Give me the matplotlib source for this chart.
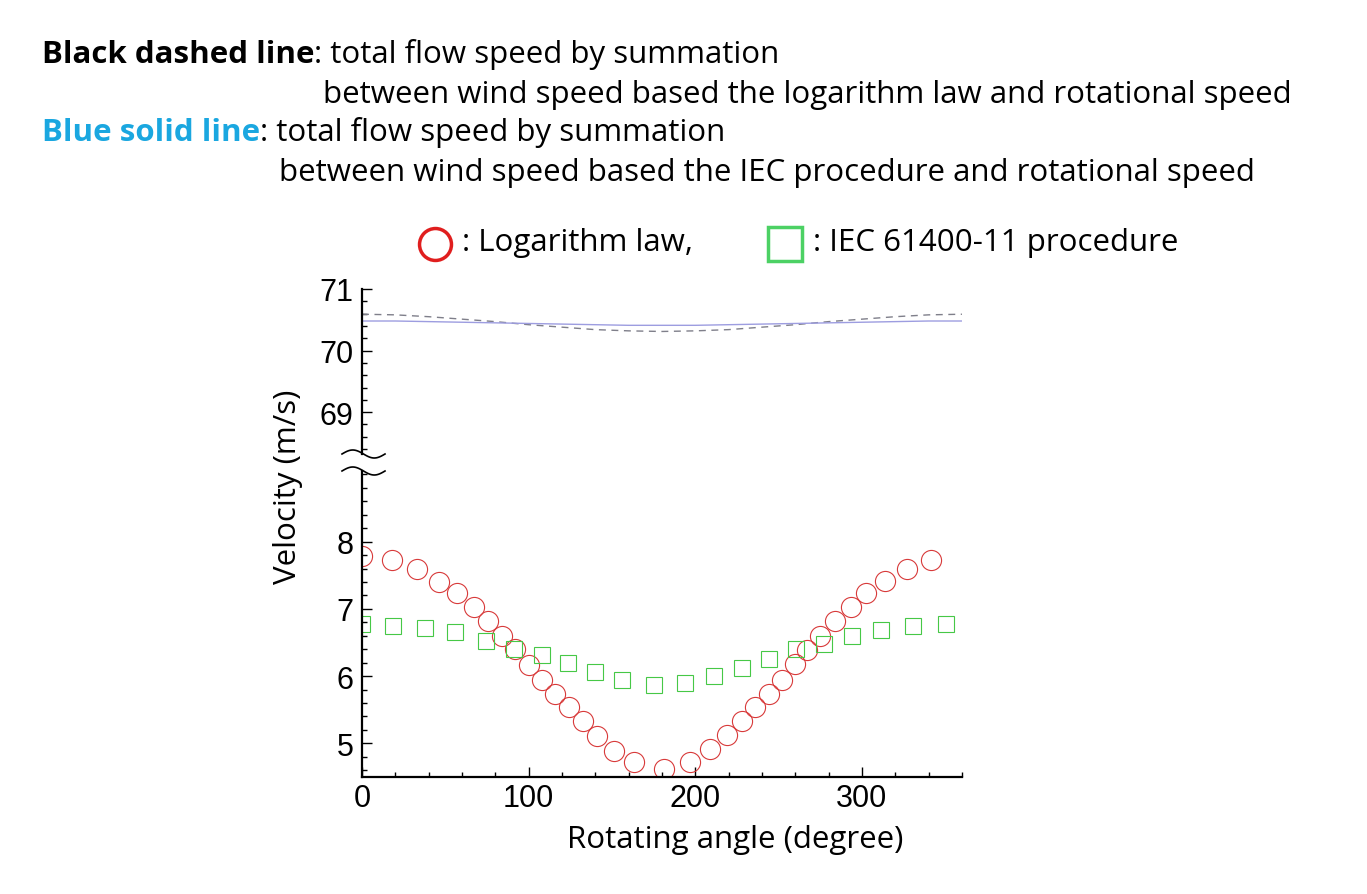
import numpy as np
import matplotlib
matplotlib.use("Agg")
import matplotlib.pyplot as plt
from matplotlib.lines import Line2D

# rotating angle (deg) and velocity (m/s)
log_angle = [0, 18, 33, 46, 57, 67, 75.5, 84, 92, 100, 108, 116, 124.5, 132.5, 141, 151, 163,
             181, 197, 209, 219, 228, 236, 244, 252, 260, 267, 275, 284, 293.5, 302.5, 314,
             327, 341.7]
log_vel = [7.79, 7.72, 7.59, 7.40, 7.23, 7.03, 6.82, 6.60, 6.40, 6.16, 5.95, 5.74, 5.54, 5.33,
           5.11, 4.89, 4.72, 4.62, 4.73, 4.91, 5.12, 5.33, 5.54, 5.74, 5.95, 6.18, 6.39, 6.60,
           6.82, 7.03, 7.23, 7.42, 7.59, 7.73]

iec_angle = [0, 18.8, 37.8, 56, 74.2, 91, 107.8, 123.7, 139.8, 156.2, 175.3, 194, 211.5,
             227.9, 244, 260.4, 277, 294, 311.7, 330.5, 350.3]
iec_vel = [6.78, 6.75, 6.72, 6.65, 6.53, 6.41, 6.31, 6.19, 6.06, 5.95, 5.87, 5.90, 6.00, 6.12,
           6.25, 6.40, 6.48, 6.60, 6.69, 6.75, 6.78]

total_angle = [0, 20, 40, 60, 80, 100, 120, 140, 160, 180, 200, 220, 240, 260, 280, 300, 320,
               340, 360]
total_log = [70.59, 70.58, 70.55, 70.51, 70.47, 70.42, 70.38, 70.34, 70.32, 70.31, 70.32,
             70.34, 70.38, 70.42, 70.47, 70.51, 70.55, 70.58, 70.59]
total_iec = [70.48, 70.48, 70.47, 70.46, 70.45, 70.44, 70.43, 70.42, 70.41, 70.41, 70.41,
             70.42, 70.43, 70.44, 70.45, 70.46, 70.47, 70.48, 70.48]

TXT = ["Open Sans", "DejaVu Sans"]
NUM = "Liberation Sans"
FS = 22.5

fig = plt.figure(figsize=(13.67, 8.95), dpi=100)
ax_top = fig.add_axes([0.2648, 0.4916, 0.4389, 0.1844])
ax_bot = fig.add_axes([0.2648, 0.1307, 0.4389, 0.3419])

ax_top.plot(total_angle, total_log, ls=(0, (5, 4)), color="#7f7f8a", lw=1.0)
ax_top.plot(total_angle, total_iec, ls="-", color="#9d9de0", lw=1.0)
ax_bot.plot(log_angle, log_vel, "o", ms=14.5, mfc="none", mec="#d83a3a", mew=0.8)
ax_bot.plot(iec_angle, iec_vel, "s", ms=11.5, mfc="none", mec="#46c846", mew=0.8)

ax_top.set_xlim(0, 360)
ax_bot.set_xlim(0, 360)
ax_top.set_ylim(68.32, 71)
ax_bot.set_ylim(4.5, 9.05)
ax_top.set_yticks([69, 70, 71])
ax_top.set_yticks(np.arange(68.4, 71.0, 0.2), minor=True)
ax_bot.set_yticks([5, 6, 7, 8])
ax_bot.set_yticks(np.arange(4.6, 9.05, 0.2), minor=True)
ax_bot.set_xticks([0, 100, 200, 300])
ax_bot.set_xticks(np.arange(20, 361, 20), minor=True)

for ax in (ax_top, ax_bot):
    for s in ("top", "right"):
        ax.spines[s].set_visible(False)
    ax.spines["left"].set_linewidth(1.6)
    ax.tick_params(which="both", direction="in", width=1.0, labelsize=22, pad=6)
    ax.tick_params(which="major", length=7)
    ax.tick_params(which="minor", length=3.5)
    for lab in ax.get_yticklabels() + ax.get_xticklabels():
        lab.set_family(NUM)

ax_top.spines["bottom"].set_visible(False)
ax_top.tick_params(axis="x", which="both", bottom=False, labelbottom=False)
ax_bot.spines["bottom"].set_linewidth(1.6)
ax_bot.tick_params(axis="x", labelsize=22, pad=4)

# axis break marks
t = np.linspace(0, 1, 60)
for yb in (455, 472):
    xs = (342 + 43 * t) / 1367
    ys = 1 - (yb - 4 * np.sin(2 * np.pi * t)) / 895
    fig.add_artist(Line2D(xs, ys, color="black", lw=1.2, transform=fig.transFigure))

fig.text(0.211, 1 - 487 / 895, "Velocity (m/s)", rotation=90, ha="center", va="center",
         fontsize=FS, family=TXT)
fig.text(735 / 1367, 1 - 840 / 895, "Rotating angle (degree)", ha="center", va="center",
         fontsize=FS, family=TXT)


def note(x, y, head, rest, color="black"):
    h = fig.text(x / 1367, 1 - y / 895, head, fontsize=FS, fontweight="bold", family=TXT,
                 va="bottom", color=color)
    ax_top.annotate(rest, xy=(1, 0), xycoords=h, va="bottom", fontsize=FS, family=TXT)


# header notes
note(42, 70, "Black dashed line", ": total flow speed by summation")
fig.text(323 / 1367, 1 - 95 / 895,
         "between wind speed based the logarithm law and rotational speed", fontsize=FS,
         family=TXT, va="center")
note(42, 148, "Blue solid line", ": total flow speed by summation", color="#1aa7e0")
fig.text(279 / 1367, 1 - 173 / 895,
         "between wind speed based the IEC procedure and rotational speed", fontsize=FS,
         family=TXT, va="center")

# marker key
fig.add_artist(Line2D([435 / 1367], [1 - 245 / 895], marker="o", ms=23, mfc="none",
                      mec="#e01e1e", mew=2.5, transform=fig.transFigure))
fig.text(462 / 1367, 1 - 243 / 895, ": Logarithm law,", fontsize=FS, family=TXT, va="center")
fig.add_artist(Line2D([785 / 1367], [1 - 245 / 895], marker="s", ms=24, mfc="none",
                      mec="#4cd164", mew=2.5, transform=fig.transFigure))
fig.text(813 / 1367, 1 - 243 / 895, ": IEC 61400-11 procedure", fontsize=FS, family=TXT,
         va="center")

fig.savefig("out.png", dpi=100)
